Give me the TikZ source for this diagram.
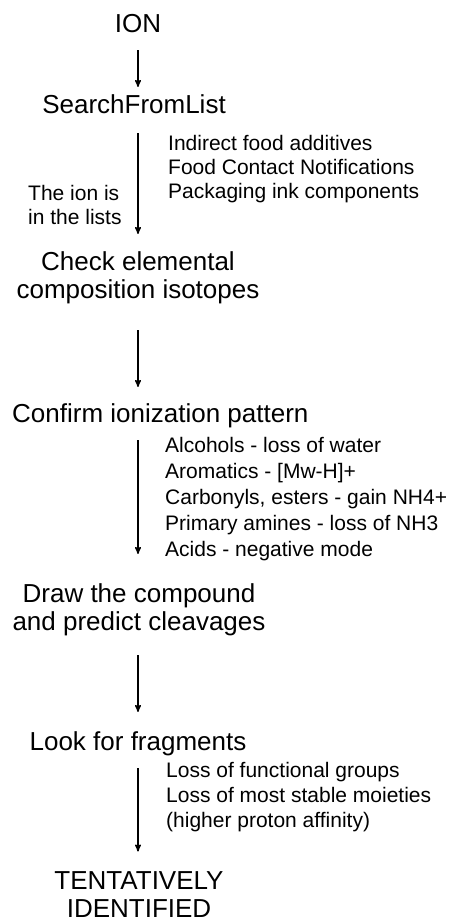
\documentclass[tikz,border=0pt]{standalone}
\usepackage{fontspec}
\setmainfont{Liberation Sans}
\usetikzlibrary{arrows,positioning}

\begin{document}
\begin{tikzpicture}[x=1pt,y=-1pt,>=stealth',
		head node/.style={font=\fontsize{26}{28}\selectfont,inner sep=0pt,align=center,anchor=base},
		note node/.style={font=\fontsize{21}{25}\selectfont,inner sep=0pt,align=left,anchor=base west},
		flow/.style={->,line width=1.4pt}]
		
		\useasboundingbox (0,0) rectangle (455,921);
		\coordinate (col) at (138,0);
		
		% main steps (base = last line)
		\node[head node] (ion) at (138,32) {ION};
		\node[head node] (search) at (134,113) {SearchFromList};
		\node[head node] (check) at (138,298) {Check elemental\\composition isotopes};
		\node[head node,anchor=base west] (confirm) at (12,422) {Confirm ionization pattern};
		\node[head node] (drawcomp) at (139,630) {Draw the compound\\and predict cleavages};
		\node[head node] (look) at (138,750) {Look for fragments};
		\node[head node] (ident) at (139,917) {TENTATIVELY\\IDENTIFIED};
		
		% side notes
		\node[note node,font=\fontsize{21}{24}\selectfont] (lists) at (168,198) {Indirect food additives\\Food Contact Notifications\\Packaging ink components};
		\node[note node,font=\fontsize{21}{24}\selectfont] (inlist) at (28,224) {The ion is\\in the lists};
		\node[note node,font=\fontsize{21}{25.8}\selectfont] (modes) at (165,556) {Alcohols - loss of water\\Aromatics - [Mw-H]+\\Carbonyls, esters - gain NH4+\\Primary amines - loss of NH3\\Acids - negative mode};
		\node[note node] (frags) at (166,827) {Loss of functional groups\\Loss of most stable moieties\\(higher proton affinity)};
		
		\path
		(ion.south -| col) edge[flow,shorten <=18pt,shorten >=7pt] (search.north -| col)
		(search.south -| col) edge[flow,shorten <=20pt,shorten >=17pt] (check.north -| col)
		(check.south -| col) edge[flow,shorten <=26.5pt,shorten >=16pt] (confirm.north -| col)
		(confirm.south -| col) edge[flow,shorten <=12.5pt,shorten >=29pt] (drawcomp.north -| col)
		(drawcomp.south -| col) edge[flow,shorten <=19.5pt,shorten >=19pt] (look.north -| col)
		(look.south -| col) edge[flow,shorten <=12.5pt,shorten >=19.4pt] (ident.north -| col);
		
\end{tikzpicture}
\end{document}
